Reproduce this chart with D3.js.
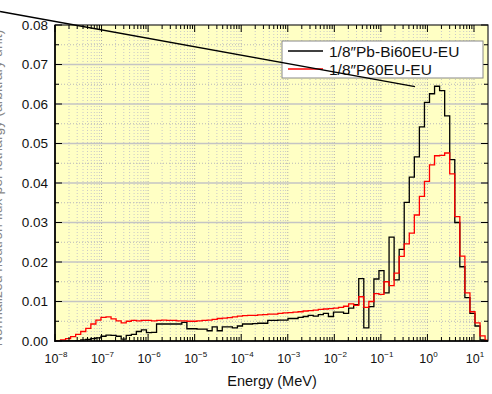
<!DOCTYPE html>
<html><head><meta charset="utf-8">
<script src="https://cdn.jsdelivr.net/npm/d3@7"></script>
<style>body{margin:0;background:#fff;} svg{display:block;}</style>
</head><body><svg id="c" width="492" height="394"></svg>
<script>
// ---- data ----
const seriesNames = ["1/8\u2033Pb-Bi60EU-EU", "1/8\u2033P60EU-EU"];
const seriesColors = ["#000000", "#ff0000"];
// energy group structure: equal-lethargy groups (du = 0.25), top edge in MeV
const topEdgeMeV = 22.25;
const lethargyWidth = 0.25;
const nGroups = 86;
// normalized flux per lethargy, ascending energy
const pbBi = [0,0,0,0,0.0001,0.0003,0.0004,0.0006,0.0008,0.0012,
  0.0015,0.0014,0.0012,0.0005,0.0014,0.0017,0.0024,0.0028,0.0021,0.0022,
  0.0043,0.0043,0.0043,0.0043,0.0043,0.0047,0.0031,0.0031,0.0030,0.0030,
  0.0026,0.0036,0.0026,0.0036,0.0036,0.0033,0.0038,0.0043,0.0043,0.0044,
  0.0045,0.0045,0.0052,0.0052,0.0053,0.0053,0.0057,0.0057,0.0060,0.0062,
  0.0065,0.0063,0.0067,0.0070,0.0062,0.0073,0.0073,0.0070,0.0083,0.0092,
  0.0158,0.0033,0.0087,0.0157,0.0178,0.0122,0.0263,0.0155,0.0232,0.0351,
  0.0415,0.0466,0.0542,0.0604,0.0626,0.0645,0.0634,0.0570,0.0459,0.0300,
  0.0188,0.0110,0.0070,0.0038,0.0003,0.0001];
const p60 = [0.0001,0.0003,0.0006,0.0011,0.0017,0.0024,0.0032,0.0043,0.0053,0.0060,
  0.0061,0.0056,0.0051,0.0046,0.0050,0.0052,0.0051,0.0052,0.0052,0.0051,
  0.0052,0.0053,0.0052,0.0052,0.0051,0.0051,0.0050,0.0050,0.0051,0.0052,
  0.0053,0.0055,0.0057,0.0058,0.0059,0.0061,0.0063,0.0064,0.0065,0.0065,
  0.0066,0.0067,0.0068,0.0068,0.0070,0.0071,0.0072,0.0073,0.0074,0.0076,
  0.0077,0.0078,0.0080,0.0081,0.0082,0.0083,0.0085,0.0088,0.0094,0.0090,
  0.0112,0.0085,0.0100,0.0120,0.0118,0.0150,0.0140,0.0172,0.0214,0.0246,
  0.0273,0.0319,0.0366,0.0404,0.0446,0.0469,0.0470,0.0476,0.0423,0.0315,
  0.0215,0.0122,0.0074,0.0046,0.0013,0.0002];
const yTicks = [0,0.01,0.02,0.03,0.04,0.05,0.06,0.07,0.08];
const xTickExps = [-8,-7,-6,-5,-4,-3,-2,-1,0,1];
const xLabel = "Energy (MeV)";
const yLabel = "Normalized neutron flux per lethargy (arbitrary unit)";
// stray annotation line (data coordinates)
const annoStart = [6.6e-10, 0.0834];
const annoEnd = [0.54, 0.0644];

// ---- layout ----
const W = 492, H = 394;
const L = 55, R = 488, T = 25, B = 341;
const svg = d3.select("#c");
const x = d3.scaleLog().domain([1e-8, 20]).range([L, R]);
const y = d3.scaleLinear().domain([0, 0.08]).range([B, T]);

svg.append("defs").append("clipPath").attr("id","clip")
  .append("rect").attr("x",L).attr("y",T).attr("width",R-L).attr("height",B-T);

// background
svg.append("rect").attr("x",L).attr("y",T).attr("width",R-L).attr("height",B-T)
  .attr("fill","#ffffc4");

// grid
const minorX = [];
for (let e = -8; e <= 1; e++) for (let m = 2; m <= 9; m++) {
  const v = m * Math.pow(10, e); if (v < 20) minorX.push(v);
}
const majorX = xTickExps.map(e => Math.pow(10, e));
const g = svg.append("g");
g.selectAll(".gmx").data(minorX).enter().append("line")
  .attr("x1",d=>x(d)).attr("x2",d=>x(d)).attr("y1",T).attr("y2",B)
  .attr("stroke","#c8c8c8").attr("stroke-width",1).attr("stroke-dasharray","1,2");
g.selectAll(".gMx").data(majorX.slice(1)).enter().append("line")
  .attr("x1",d=>x(d)).attr("x2",d=>x(d)).attr("y1",T).attr("y2",B)
  .attr("stroke","#b0b0b0").attr("stroke-width",1).attr("stroke-dasharray","1,2");
const minorY = yTicks.slice(0,-1).map(v => v + 0.005);
g.selectAll(".gmy").data(minorY).enter().append("line")
  .attr("x1",L).attr("x2",R).attr("y1",d=>y(d)).attr("y2",d=>y(d))
  .attr("stroke","#b8b8b8").attr("stroke-width",1).attr("stroke-dasharray","1,2");
g.selectAll(".gMy").data(yTicks.slice(1,-1)).enter().append("line")
  .attr("x1",L).attr("x2",R).attr("y1",d=>y(d)).attr("y2",d=>y(d))
  .attr("stroke","#c4c4c4").attr("stroke-width",1.5);

// histograms
const edges = d3.range(nGroups + 1).map(j => topEdgeMeV * Math.exp(-lethargyWidth * (nGroups - j)));
function stepPts(vals) {
  const pts = vals.map((v, i) => [edges[i], v]);
  pts.push([edges[nGroups], vals[nGroups - 1]]);
  return pts;
}
const line = d3.line().x(d => x(d[0])).y(d => y(d[1])).curve(d3.curveStepAfter);
const plot = svg.append("g").attr("clip-path","url(#clip)");
[pbBi, p60].forEach((vals, k) => {
  plot.append("path").datum(stepPts(vals)).attr("d", line)
    .attr("fill","none").attr("stroke", seriesColors[k]).attr("stroke-width",1.3);
});

// axes frame and ticks
const ax = svg.append("g");
ax.append("rect").attr("x",L).attr("y",T).attr("width",R-L).attr("height",B-T)
  .attr("fill","none").attr("stroke","#222").attr("stroke-width",1.2);
ax.append("line").attr("x1",L).attr("x2",L).attr("y1",T).attr("y2",B+1).attr("stroke","#000").attr("stroke-width",1.6);
ax.append("line").attr("x1",L).attr("x2",R).attr("y1",B).attr("y2",B).attr("stroke","#000").attr("stroke-width",1.6);
function xt(data, len) {
  ax.selectAll(null).data(data).enter().append("line")
    .attr("x1",d=>x(d)).attr("x2",d=>x(d)).attr("y1",B).attr("y2",B-len).attr("stroke","#000");
  ax.selectAll(null).data(data).enter().append("line")
    .attr("x1",d=>x(d)).attr("x2",d=>x(d)).attr("y1",T).attr("y2",T+len).attr("stroke","#000");
}
xt(minorX, 4); xt(majorX, 7);
function yt(data, len) {
  ax.selectAll(null).data(data).enter().append("line")
    .attr("x1",L).attr("x2",L+len).attr("y1",d=>y(d)).attr("y2",d=>y(d)).attr("stroke","#000");
  ax.selectAll(null).data(data).enter().append("line")
    .attr("x1",R).attr("x2",R-len).attr("y1",d=>y(d)).attr("y2",d=>y(d)).attr("stroke","#000");
}
yt(minorY, 4); yt(yTicks, 7);

// tick labels
const font = "'Liberation Sans', Arial, sans-serif";
svg.selectAll(".yl").data(yTicks).enter().append("text")
  .attr("x", 48).attr("y", d => y(d) + 4.5).attr("text-anchor","end")
  .attr("font-family", font).attr("font-size", 13.5).attr("fill","#111")
  .text(d => d3.format(".2f")(d));
const xl = svg.selectAll(".xl").data(xTickExps).enter().append("text")
  .attr("x", d => x(Math.pow(10, d)) + 1).attr("y", 363).attr("text-anchor","middle")
  .attr("font-family", font).attr("font-size", 12.5).attr("fill","#111");
xl.append("tspan").text("10");
xl.append("tspan").attr("dy", -6).attr("font-size", 8).text(d => (d < 0 ? "\u2212" : "") + Math.abs(d));

svg.append("text").attr("x", 272).attr("y", 386).attr("text-anchor","middle")
  .attr("font-family", font).attr("font-size", 14.5).attr("fill","#111").text(xLabel);
svg.append("text").attr("transform","translate(2,188) rotate(-90)").attr("text-anchor","middle")
  .attr("font-family", font).attr("font-size", 14).attr("fill","#888").text(yLabel);

// legend
const lg = svg.append("g");
lg.append("rect").attr("x",282).attr("y",41).attr("width",201).attr("height",37)
  .attr("fill","#fff").attr("stroke","#888").attr("stroke-width",1);
seriesNames.forEach((n, k) => {
  const yy = 51 + k * 18;
  lg.append("line").attr("x1",288).attr("x2",323).attr("y1",yy).attr("y2",yy)
    .attr("stroke", seriesColors[k]).attr("stroke-width",1.3);
  lg.append("text").attr("x",329).attr("y",yy+5.5).attr("font-family", font)
    .attr("font-size", 15.5).attr("fill","#111").text(n);
});

// stray annotation line
svg.append("line")
  .attr("x1", x(annoStart[0])).attr("y1", y(annoStart[1]))
  .attr("x2", x(annoEnd[0])).attr("y2", y(annoEnd[1]))
  .attr("stroke","#000").attr("stroke-width",1.5);
</script></body></html>
